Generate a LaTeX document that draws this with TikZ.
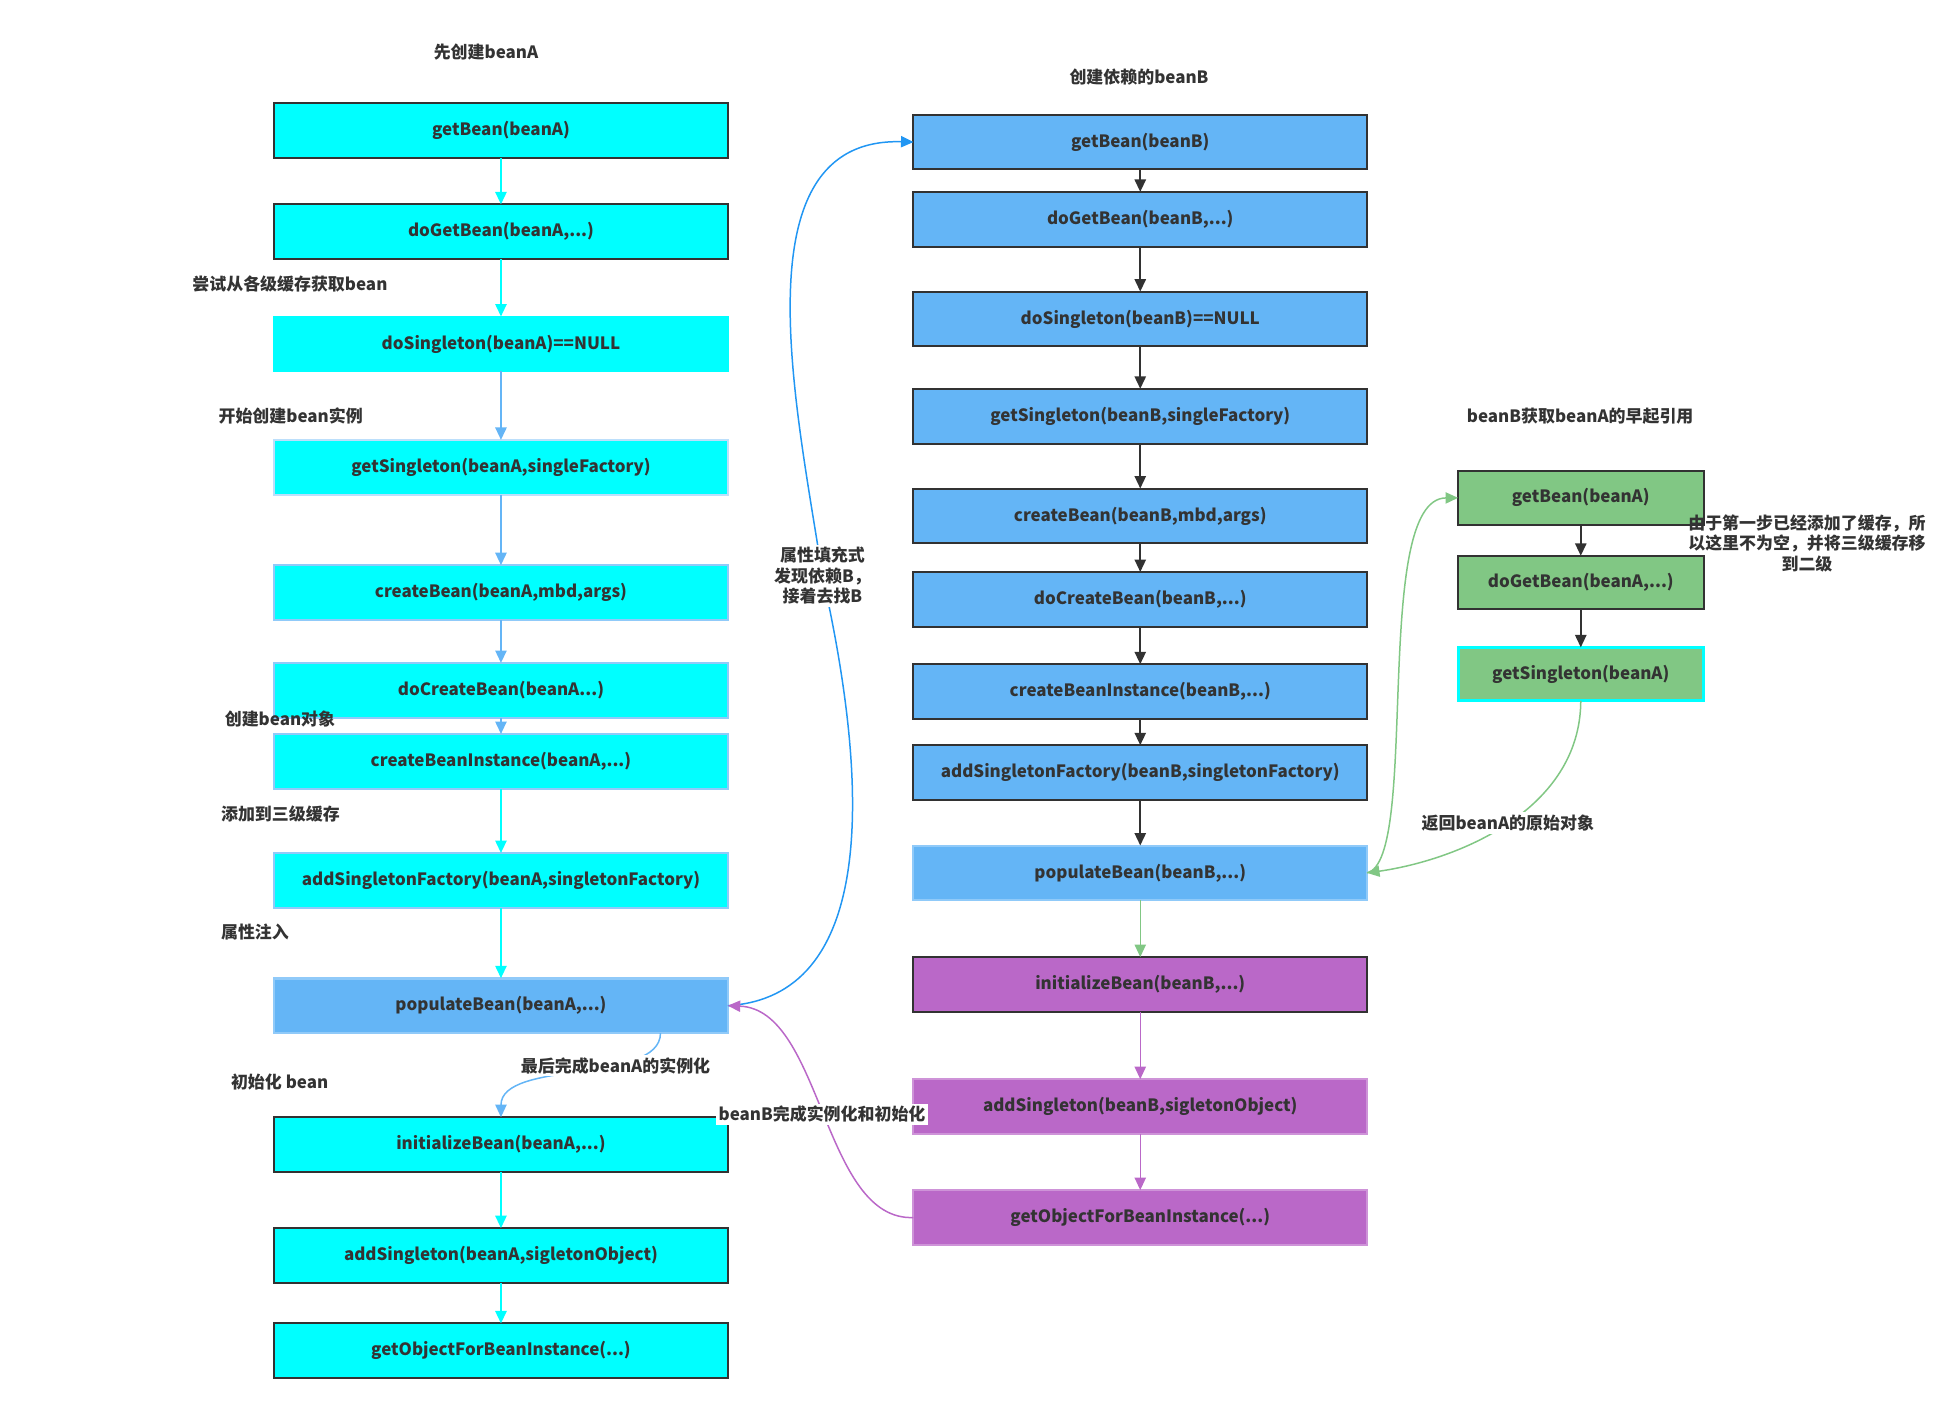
\documentclass[tikz,border=0pt]{standalone}
\usepackage{fontspec}
\setmainfont{Noto Sans CJK SC}
\usepackage{tikz}
\usetikzlibrary{arrows.meta}

\definecolor{txt}{HTML}{333333}
\definecolor{dark}{HTML}{323232}
\definecolor{aqua}{HTML}{00FFFF}
\definecolor{sky}{HTML}{64B5F6}
\definecolor{skyline}{HTML}{90CAF9}
\definecolor{deepsky}{HTML}{2196F3}
\definecolor{leaf}{HTML}{81C784}
\definecolor{plum}{HTML}{BA68C8}
\definecolor{plumline}{HTML}{CE93D8}

\begin{document}
\begin{tikzpicture}[x=0.5pt,y=-0.5pt,text=txt,
    font=\fontsize{6.8}{8.2}\selectfont\bfseries,
    every text node part/.style={align=center}]
  \tikzstyle{box}=[rectangle,minimum width=182pt,minimum height=22pt,
    inner sep=0pt,outer sep=0pt,line width=0.8pt]
  \tikzstyle{smallbox}=[box,minimum width=98.5pt,minimum height=21.5pt]
  \tikzstyle{desc}=[inner sep=1pt,text=txt]
  \tikzstyle{tip}=[-{Triangle[length=5pt,width=4.5pt]}]
  \tikzstyle{flow}=[tip,line width=0.8pt]
  \tikzstyle{curve}=[tip,line width=0.6pt]

  \useasboundingbox (0,0) rectangle (1568,1124);

  % first column: beanA
  \node [desc] (titleA) at (390,42) {先创建beanA};
  \node [box,fill=aqua,draw=dark] (a1) at (402,105) {getBean(beanA)};
  \node [box,fill=aqua,draw=dark] (a2) at (402,186) {doGetBean(beanA,...)};
  \node [box,fill=aqua,draw=aqua] (a3) at (402,276) {doSingleton(beanA)==NULL};
  \node [box,fill=aqua,draw=skyline!60] (a4) at (402,375) {getSingleton(beanA,singleFactory)};
  \node [box,fill=aqua,draw=skyline,line width=1pt] (a5) at (402,475.5) {createBean(beanA,mbd,args)};
  \node [box,fill=aqua,draw=skyline,line width=1pt] (a6) at (402,554) {doCreateBean(beanA...)};
  \node [box,fill=aqua,draw=skyline,line width=1pt] (a7) at (402,611) {createBeanInstance(beanA,...)};
  \node [box,fill=aqua,draw=skyline,line width=1pt] (a8) at (402,706.5) {addSingletonFactory(beanA,singletonFactory)};
  \node [box,fill=sky,draw=skyline,line width=1pt] (a9) at (402,807) {populateBean(beanA,...)};
  \node [box,fill=aqua,draw=dark] (a10) at (402,918.5) {initializeBean(beanA,...)};
  \node [box,fill=aqua,draw=dark] (a11) at (402,1007.5) {addSingleton(beanA,sigletonObject)};
  \node [box,fill=aqua,draw=dark] (a12) at (402,1084) {getObjectForBeanInstance(...)};

  \node [desc,anchor=west] (tryCache) at (152,228) {尝试从各级缓存获取bean};
  \node [desc,anchor=west] (startNew) at (173,334) {开始创建bean实例};
  \node [desc,anchor=west] (newObj) at (178,577) {创建bean对象};
  \node [desc,anchor=west] (toThird) at (175,653) {添加到三级缓存};
  \node [desc,anchor=west] (inject) at (175,748) {属性注入};
  \node [desc,anchor=west] (initA) at (183,868) {初始化 bean};

  % second column: beanB
  \node [desc] (titleB) at (914,62) {创建依赖的beanB};
  \node [box,fill=sky,draw=dark] (b1) at (915,114) {getBean(beanB)};
  \node [box,fill=sky,draw=dark] (b2) at (915,176) {doGetBean(beanB,...)};
  \node [box,fill=sky,draw=dark] (b3) at (915,256) {doSingleton(beanB)==NULL};
  \node [box,fill=sky,draw=dark] (b4) at (915,334) {getSingleton(beanB,singleFactory)};
  \node [box,fill=sky,draw=dark] (b5) at (915,414) {createBean(beanB,mbd,args)};
  \node [box,fill=sky,draw=dark] (b6) at (915,481) {doCreateBean(beanB,...)};
  \node [box,fill=sky,draw=dark] (b7) at (915,555) {createBeanInstance(beanB,...)};
  \node [box,fill=sky,draw=dark] (b8) at (915,620) {addSingletonFactory(beanB,singletonFactory)};
  \node [box,fill=sky,draw=skyline] (b9) at (915,700.5) {populateBean(beanB,...)};
  \node [box,fill=plum,draw=dark] (b10) at (915,790) {initializeBean(beanB,...)};
  \node [box,fill=plum,draw=plumline] (b11) at (915,888) {addSingleton(beanB,sigletonObject)};
  \node [box,fill=plum,draw=plumline] (b12) at (915,977) {getObjectForBeanInstance(...)};

  % third column: early reference of beanA
  \node [desc] (titleC) at (1268,334) {beanB获取beanA的早起引用};
  \node [smallbox,fill=leaf,draw=dark] (c1) at (1268.5,399.5) {getBean(beanA)};
  \node [smallbox,fill=leaf,draw=dark] (c2) at (1268.5,467.5) {doGetBean(beanA,...)};
  \node [smallbox,fill=leaf,draw=aqua,line width=1.2pt] (c3) at (1268.5,541) {getSingleton(beanA)};
  \node [desc] (note) at (1450,436) {由于第一步已经添加了缓存，所\\以这里不为空，并将三级缓存移\\到二级};

  % straight arrows
  \foreach \from/\to in {a1/a2,a2/a3,a7/a8,a8/a9,a10/a11,a11/a12}
    \draw [flow,aqua] (\from) -- (\to);
  \foreach \from/\to in {a3/a4,a4/a5,a5/a6,a6/a7}
    \draw [flow,sky] (\from) -- (\to);
  \foreach \from/\to in {b1/b2,b2/b3,b3/b4,b4/b5,b5/b6,b6/b7,b7/b8,b8/b9,c1/c2,c2/c3}
    \draw [flow,dark] (\from) -- (\to);
  \draw [curve,leaf] (b9) -- (b10);
  \draw [curve,plum] (b10) -- (b11);
  \draw [curve,plum] (b11) -- (b12);

  % curved arrows
  \draw [curve,sky] ([xshift=64pt]a9.south) .. controls (530,870) and (402,850) .. (a10.north)
    node [desc,pos=0.35,fill=white] {最后完成beanA的实例化};
  \draw [curve,deepsky] (a9.east) .. controls (700,800) and (700,640) .. (660,462)
    node [desc,fill=white] {属性填充式\\发现依赖B，\\接着去找B}
    .. controls (640,330) and (590,110) .. (b1.west);
  \draw [curve,plum] (b12.west) .. controls (660,980) and (660,810) .. (a9.east)
    node [desc,pos=0.5,fill=white] {beanB完成实例化和初始化};
  \draw [curve,leaf] (b9.east) .. controls (1140,690) and (1100,400) .. (c1.west);
  \draw [curve,leaf] (c3.south) .. controls (1268,650) and (1170,690) .. (b9.east)
    node [desc,pos=0.5,fill=white] {返回beanA的原始对象};
\end{tikzpicture}
\end{document}
